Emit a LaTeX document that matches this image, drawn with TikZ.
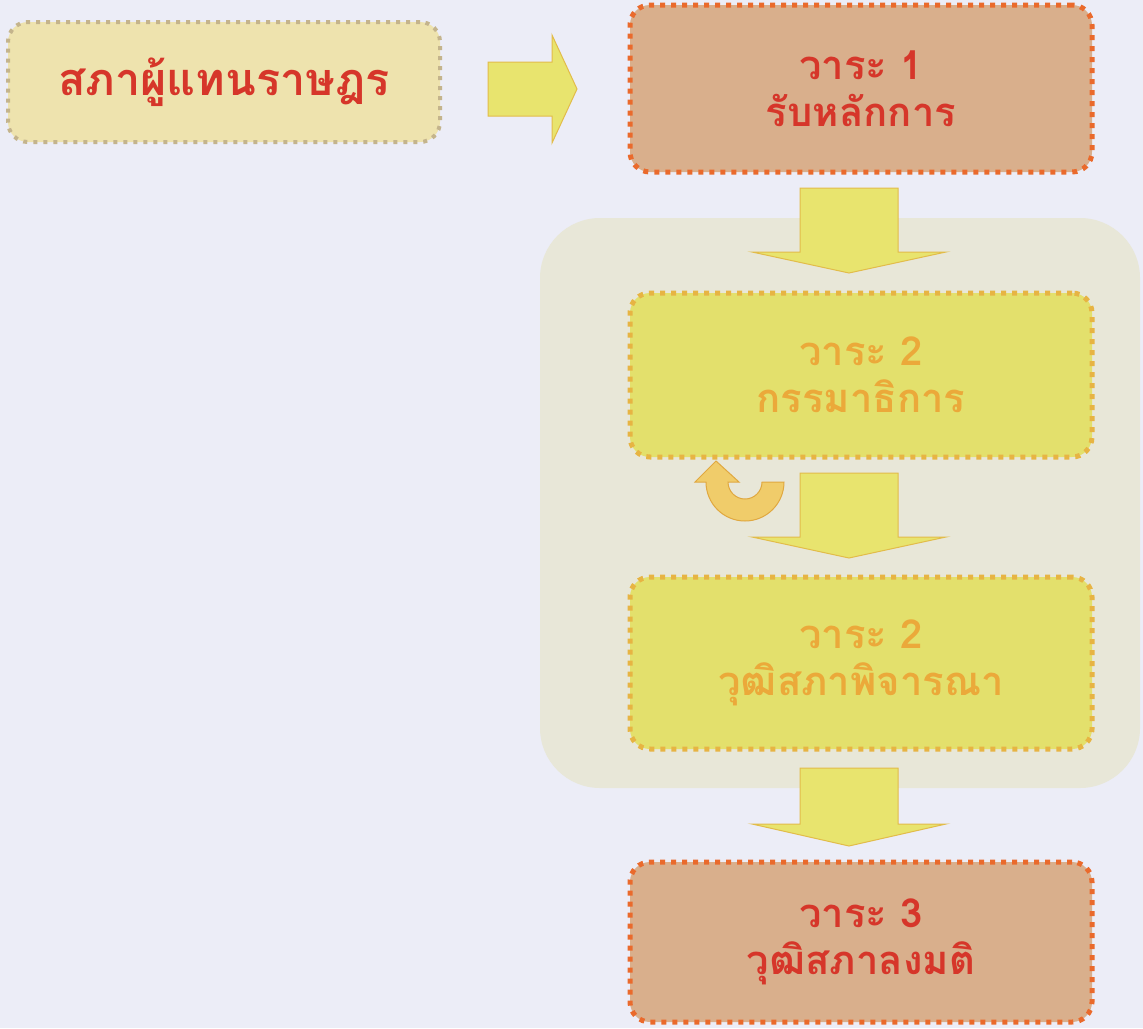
\documentclass[tikz,border=0pt]{standalone}
\usepackage{fontspec}
\newfontfamily\thaifont[Script=Thai]{Loma}
\definecolor{pagebg}{HTML}{ECEDF7}
\definecolor{panelbg}{HTML}{E8E7D8}
\definecolor{afill}{HTML}{EEE3AE}
\definecolor{aline}{HTML}{C4B48C}
\definecolor{redtext}{HTML}{D6362A}
\definecolor{bfill}{HTML}{D9AF8C}
\definecolor{bline}{HTML}{EA6A2C}
\definecolor{cfill}{HTML}{E3E06C}
\definecolor{cline}{HTML}{E7B443}
\definecolor{ctext}{HTML}{EBA93A}
\definecolor{arrfill}{HTML}{E8E46E}
\definecolor{arrline}{HTML}{E2BC4A}
\definecolor{ufill}{HTML}{F0CC6A}
\definecolor{uline}{HTML}{E0A840}
\tikzset{
  boxbase/.style={rounded corners=20pt, line width=5pt, dash pattern=on 5pt off 6pt,
    align=center, inner sep=0pt,
    font={\thaifont\bfseries\fontsize{40}{47}\selectfont}},
  housebox/.style={boxbase, fill=afill, draw=aline, text=redtext, line width=4pt,
    dash pattern=on 4pt off 6pt, font={\thaifont\bfseries\fontsize{45}{50}\selectfont}},
  stagebox/.style={boxbase, fill=bfill, draw=bline, text=redtext},
  midbox/.style={boxbase, fill=cfill, draw=cline, text=ctext},
  blockarrow/.style={fill=arrfill, draw=arrline, line width=1pt, line join=miter},
  uturn/.style={fill=ufill, draw=uline, line width=1pt}
}
\begin{document}
\begin{tikzpicture}[x=1pt,y=-1pt]
\fill[pagebg] (0,0) rectangle (1143,1028);
\useasboundingbox (0,0) rectangle (1143,1028);
% panel behind stage 2
\fill[panelbg, rounded corners=60pt] (540,218) rectangle (1140,788);

\node[housebox, minimum width=432pt, minimum height=120pt] (house) at (224,82) {สภาผู้แทนราษฎร};
\node[stagebox, minimum width=462pt, minimum height=167pt] (r1) at (861,88.5) {วาระ 1\\รับหลักการ};
\node[midbox, minimum width=462pt, minimum height=164pt] (r2a) at (861,375) {วาระ 2\\กรรมาธิการ};
\node[midbox, minimum width=462pt, minimum height=172pt] (r2b) at (861,663) {วาระ 2\\วุฒิสภาพิจารณา};
\node[stagebox, minimum width=462pt, minimum height=160pt] (r3) at (861,942) {วาระ 3\\วุฒิสภาลงมติ};

% right block arrow
\draw[blockarrow] (488,62) -- (552,62) -- (552,35) -- (577,89) -- (552,143) -- (552,116) -- (488,116) -- cycle;

% down block arrows
\foreach \ya/\yb/\yc in {188/252/273, 473/537/558, 768/824/846}{
  \draw[blockarrow] (800,\ya) -- (898,\ya) -- (898,\yb) -- (946,\yb) -- (849,\yc)
     -- (752,\yb) -- (800,\yb) -- cycle;
}

% u-turn arrow back to committee
\draw[uturn] (706,482) arc[start angle=180, end angle=0, radius=39]
  -- (762,482) arc[start angle=0, end angle=180, radius=17]
  -- (739,482) -- (716,461) -- (695,482) -- cycle;
\end{tikzpicture}
\end{document}
